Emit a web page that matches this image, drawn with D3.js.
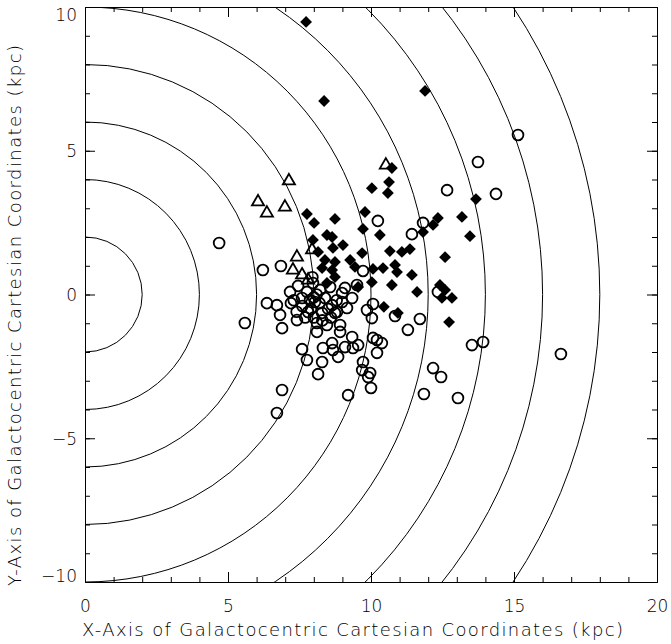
<!DOCTYPE html>
<html><head><meta charset="utf-8">
<script src="https://cdn.jsdelivr.net/npm/d3@7"></script>
<style>
body{margin:0;background:#fff}
svg{display:block}
text{font-family:"DejaVu Sans",sans-serif;font-weight:200;fill:#000}
</style>
</head><body>
<svg id="c" width="671" height="644"></svg>
<script>
// ---- data ----
const ringRadii = [2,4,6,8,10,12,14,16,18];
const xMajorTicks = [0,5,10,15,20];
const yMajorTicks = [-10,-5,0,5,10];
const xLabelText = "X-Axis of Galactocentric Cartesian Coordinates (kpc)";
const yLabelText = "Y-Axis of Galactocentric Cartesian Coordinates (kpc)";

const openCircles = [
 [4.69,1.79],[5.59,-0.99],[6.22,0.85],[6.85,0.99],[6.36,-0.30],[6.71,-0.37],[6.82,-0.71],[6.89,-1.17],
 [7.17,0.09],[7.20,-0.30],[7.41,-0.89],[7.76,0.09],[7.97,0.40],[7.59,-0.12],[8.04,-0.26],[8.39,-0.12],
 [7.80,-0.61],[8.29,-0.64],[8.64,-0.37],[8.74,-0.64],[8.11,-0.99],[8.46,-1.06],[8.92,-1.06],
 [7.45,0.30],[8.22,0.16],[7.87,-0.19],[8.57,0.26],[9.09,0.23],
 [7.60,-0.40],[7.90,-0.50],[8.20,-0.30],[8.00,-0.80],[7.70,-0.80],[8.30,-0.90],[8.50,-0.50],[7.40,-0.60],
 [8.10,0.00],[7.30,-0.20],[8.60,-0.80],[8.00,-0.10],[8.80,-0.20],[7.95,0.60],
 [10.24,2.56],[11.82,2.49],[11.43,2.10],[12.66,3.63],[13.74,4.61],[14.37,3.50],[15.14,5.55],
 [9.72,0.82],[9.51,0.33],[8.99,0.05],[12.34,0.09],[10.07,-0.33],[8.99,-0.26],[8.81,-0.61],[9.16,-0.47],
 [9.34,-0.12],[9.86,-0.54],[10.03,-0.82],[11.29,-1.23],[8.92,-1.30],[10.07,-1.51],[11.71,-0.85],[10.84,-0.75],
 [13.53,-1.76],[13.92,-1.65],[12.17,-2.56],[12.45,-2.87],[11.85,-3.46],[13.04,-3.60],[16.64,-2.07],
 [7.59,-1.90],[7.76,-2.28],[8.29,-2.35],[8.15,-2.77],[8.32,-1.86],[8.64,-1.69],[8.67,-1.93],[8.85,-2.17],
 [9.09,-1.83],[9.34,-1.48],[9.37,-1.86],[9.55,-1.76],[9.72,-2.35],[9.69,-2.63],[9.97,-2.73],[9.90,-2.87],
 [10.21,-1.58],[10.38,-1.69],[10.21,-2.03],[10.00,-3.25],[9.20,-3.50],[6.89,-3.32],[6.71,-4.12],[8.11,-1.30]
];

const filledDiamonds = [
 [7.73,9.48],[8.36,6.73],[11.89,7.08],[10.73,4.40],[10.63,3.91],[10.03,3.70],[10.59,3.53],[9.79,2.87],
 [8.74,2.63],[7.76,2.80],[8.01,2.49],[9.72,2.28],[10.31,2.07],[7.97,1.90],[8.46,2.07],[8.64,2.00],
 [9.02,1.72],[8.67,1.62],[9.69,1.44],[10.66,1.51],[11.08,1.48],[11.36,1.58],[11.82,2.17],[12.17,2.42],
 [12.34,2.66],[13.18,2.70],[13.67,3.32],[13.46,2.03],[12.59,1.30],[8.15,1.48],[8.39,1.20],[9.27,1.20],
 [9.44,0.96],[10.07,0.89],[10.42,0.92],[10.84,1.03],[10.91,0.78],[11.43,0.68],[10.73,0.33],[11.61,0.09],
 [12.41,0.33],[12.59,0.16],[12.48,-0.12],[12.83,-0.12],[12.73,-0.96],[10.03,0.43],[9.55,0.26],[8.74,0.61],
 [8.74,1.13],[8.29,0.92],[8.64,0.85],[8.46,0.40],[10.45,-0.43],[10.94,-0.64]
];

const openTriangles = [
 [7.13,3.95],[6.05,3.22],[6.36,2.83],[6.99,3.04],[10.52,4.50],[7.41,1.30],[7.27,0.85],[7.59,0.68],
 [7.80,0.50],[7.94,1.55]
];

// ---- chart ----
const svg = d3.select("#c");
const L = 85, R = 657, T = 7, B = 582;
const x = d3.scaleLinear().domain([0,20]).range([L,R]);
const y = d3.scaleLinear().domain([-10,10]).range([B,T]);

svg.append("clipPath").attr("id","clip").append("rect")
  .attr("x",L).attr("y",T).attr("width",R-L).attr("height",B-T);

const rings = svg.append("g").attr("clip-path","url(#clip)");
rings.selectAll("ellipse").data(ringRadii).join("ellipse")
  .attr("cx",x(0)).attr("cy",y(0))
  .attr("rx",d=>x(d)-x(0)).attr("ry",d=>y(0)-y(d))
  .attr("fill","none").attr("stroke","#000").attr("stroke-width",1);

// axes: minor and major inward ticks on all sides
const minorX = d3.range(0,21,1), minorY = d3.range(-10,11,1);
function addAxis(axisFn, scale, tr, vals, size, labels){
  const a = axisFn(scale).tickValues(vals).tickSizeInner(-size).tickSizeOuter(0);
  if(!labels) a.tickFormat("");
  const g = svg.append("g").attr("transform",tr).call(a);
  g.selectAll("path.domain").attr("stroke","#000").attr("stroke-width",1);
  g.selectAll(".tick line").attr("stroke","#000").attr("stroke-width",1);
  return g;
}
addAxis(d3.axisBottom, x, `translate(0,${B})`, minorX, 5, false);
addAxis(d3.axisTop, x, `translate(0,${T})`, minorX, 5, false);
addAxis(d3.axisLeft, y, `translate(${L},0)`, minorY, 5, false);
addAxis(d3.axisRight, y, `translate(${R},0)`, minorY, 5, false);
const gxb = addAxis(d3.axisBottom, x, `translate(0,${B})`, xMajorTicks, 10, true);
addAxis(d3.axisTop, x, `translate(0,${T})`, xMajorTicks, 10, false);
const gyl = addAxis(d3.axisLeft, y, `translate(${L},0)`, yMajorTicks, 10, true);
addAxis(d3.axisRight, y, `translate(${R},0)`, yMajorTicks, 10, false);

gxb.selectAll(".tick text").attr("y",18).attr("dy","0.71em")
  .attr("font-size",17).attr("font-family","DejaVu Sans").attr("font-weight",200).attr("fill","#000");
gyl.selectAll(".tick text").attr("x",-8)
  .attr("y",d=>Math.max(T+7,Math.min(B-7,y(d)))-y(d)).attr("dy","0.36em")
  .attr("font-size",17).attr("font-family","DejaVu Sans").attr("font-weight",200).attr("fill","#000");

// axis titles
svg.append("text").attr("x",82).attr("y",636)
  .attr("font-size",18).attr("textLength",541).attr("lengthAdjust","spacing")
  .text(xLabelText);
svg.append("text").attr("transform","translate(21,586) rotate(-90)")
  .attr("font-size",18).attr("textLength",541).attr("lengthAdjust","spacing")
  .text(yLabelText);

// marks
const marks = svg.append("g");
marks.selectAll("circle.pt").data(openCircles).join("circle").attr("class","pt")
  .attr("cx",d=>x(d[0])).attr("cy",d=>y(d[1])).attr("r",5.4)
  .attr("fill","none").attr("stroke","#000").attr("stroke-width",1.8);
const tri = d3.symbol(d3.symbolTriangle,64);
marks.selectAll("path.tri").data(openTriangles).join("path").attr("class","tri")
  .attr("d",tri).attr("transform",d=>`translate(${x(d[0])},${y(d[1])})`)
  .attr("fill","none").attr("stroke","#000").attr("stroke-width",1.8);
const dia = d3.symbol(d3.symbolSquare,70);
marks.selectAll("path.dia").data(filledDiamonds).join("path").attr("class","dia")
  .attr("d",dia).attr("transform",d=>`translate(${x(d[0])},${y(d[1])}) rotate(45)`)
  .attr("fill","#000").attr("stroke","none");
</script>
</body></html>
